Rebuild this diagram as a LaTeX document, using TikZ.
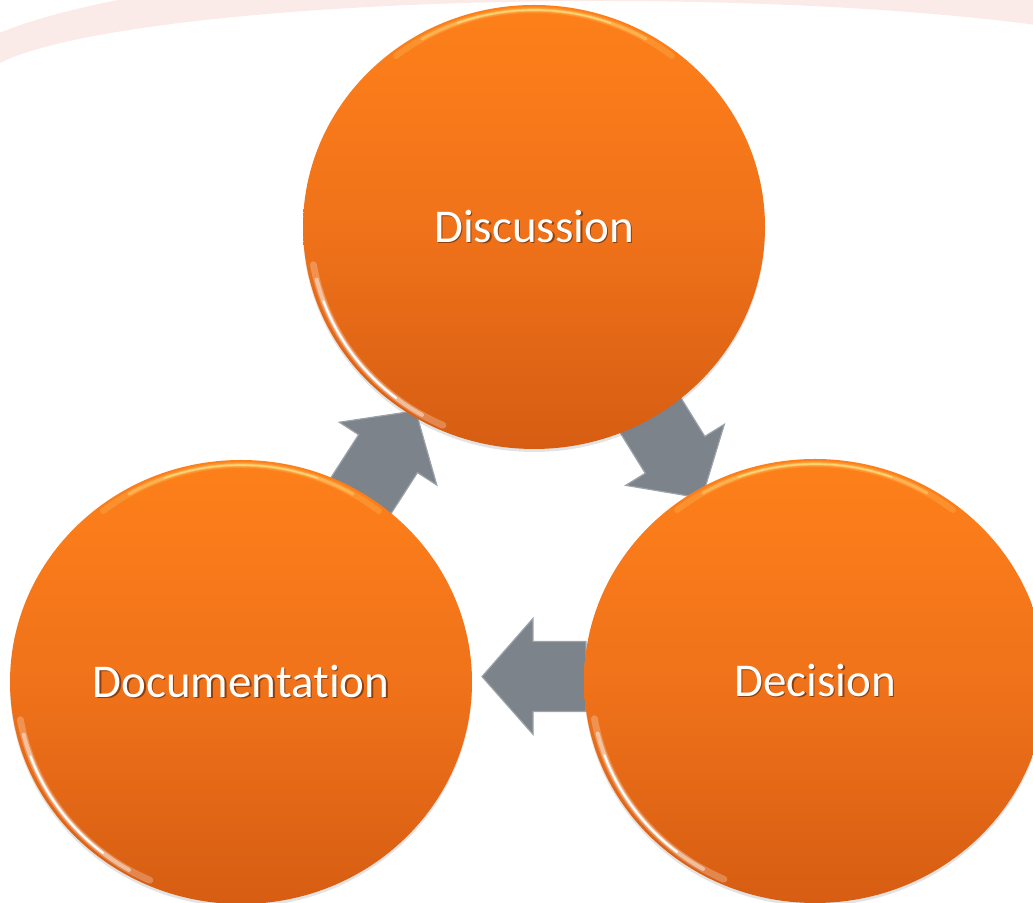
\documentclass[tikz,border=0pt]{standalone}
\usepackage{fontspec}
\setmainfont{Carlito}[Ligatures=NoCommon]
\usetikzlibrary{shapes.geometric,shadows,calc}

\definecolor{bandpink}{RGB}{250,234,232}
\definecolor{orangetop}{RGB}{254,128,26}
\definecolor{orangemid}{RGB}{240,114,26}
\definecolor{orangebottom}{RGB}{214,93,18}
\definecolor{arrowgray}{RGB}{124,131,139}
\definecolor{arrowedge}{RGB}{156,162,170}
\definecolor{yellowlight}{RGB}{255,226,130}
\definecolor{shadowbrown}{RGB}{140,62,12}

\pgfdeclarelayer{background}
\pgfsetlayers{background,main}

% white label with a small cast shadow
\newcommand{\castshadow}[1]{\makebox[0pt][l]{\hspace{0.8pt}\raisebox{-0.8pt}{\color{shadowbrown}#1}}#1}

% block arrow half way between two stages (#3: small nudge)
\newcommand{\flowarrow}[3][0,0]{%
  \path let \p1=(#2.center), \p2=(#3.center), \n1={atan2(\y2-\y1,\x2-\x1)} in
    ($(\p1)!.5!(\p2)+(#1)$) pic[rotate=\n1] {flow arrow};}

\begin{document}
\begin{tikzpicture}[x=0.5pt,y=0.5pt,
    stage node/.style={ellipse,minimum width=231pt,minimum height=222pt,inner sep=0pt,
      top color=orangetop,bottom color=orangebottom,middle color=orangemid,
      drop shadow={opacity=.22,shadow xshift=0pt,shadow yshift=-1.5pt},
      text=white,font=\fontsize{23.5}{28}\selectfont},
    flow arrow/.pic={
      \filldraw[fill=arrowgray,draw=arrowedge,line width=.6pt]
        (-52,-35) -- (1,-35) -- (1,-58) -- (52,0) -- (1,58) -- (1,35) -- (-52,35) -- cycle;},
    rim light/.style={white,line cap=round},
    top light/.style={yellowlight,line cap=round}]

  \useasboundingbox (0,0) rectangle (1033,903);

  \node[stage node] (disc) at (534,676) {\castshadow{Discussion}};
  \node[stage node] (doc) at (241,221) {\castshadow{Documentation}};
  \node[stage node] (dec) at (815,222) {\castshadow{Decision}};

  \begin{pgfonlayer}{background}
    % pale band across the top
    \begin{scope}
      \clip (0,819) rectangle (1033,903);
      \fill[bandpink,even odd rule] (600,819) ellipse [x radius=660,y radius=123]
                                    (600,819) ellipse [x radius=620,y radius=83];
    \end{scope}
    \flowarrow{doc}{disc}
    \flowarrow{disc}{dec}
    \flowarrow[6,5]{dec}{doc}
  \end{pgfonlayer}

  % glossy rims, soft outer glow first
  \foreach \n in {disc,doc,dec} {
    \foreach \w/\o/\a/\b in {3.4pt/.25/190/246, 2pt/.45/194/240, 1pt/1/200/232} {
      \draw[rim light,line width=\w,opacity=\o] ([shift={(\a:112pt and 108.5pt)}]\n.center)
        arc[start angle=\a,end angle=\b,x radius=112pt,y radius=108.5pt];
    }
    \foreach \w/\o/\a/\b in {3pt/.2/52/128, 1.6pt/.4/60/120, .8pt/.7/70/110} {
      \draw[top light,line width=\w,opacity=\o] ([shift={(\a:112pt and 108.5pt)}]\n.center)
        arc[start angle=\a,end angle=\b,x radius=112pt,y radius=108.5pt];
    }
  }
\end{tikzpicture}
\end{document}
